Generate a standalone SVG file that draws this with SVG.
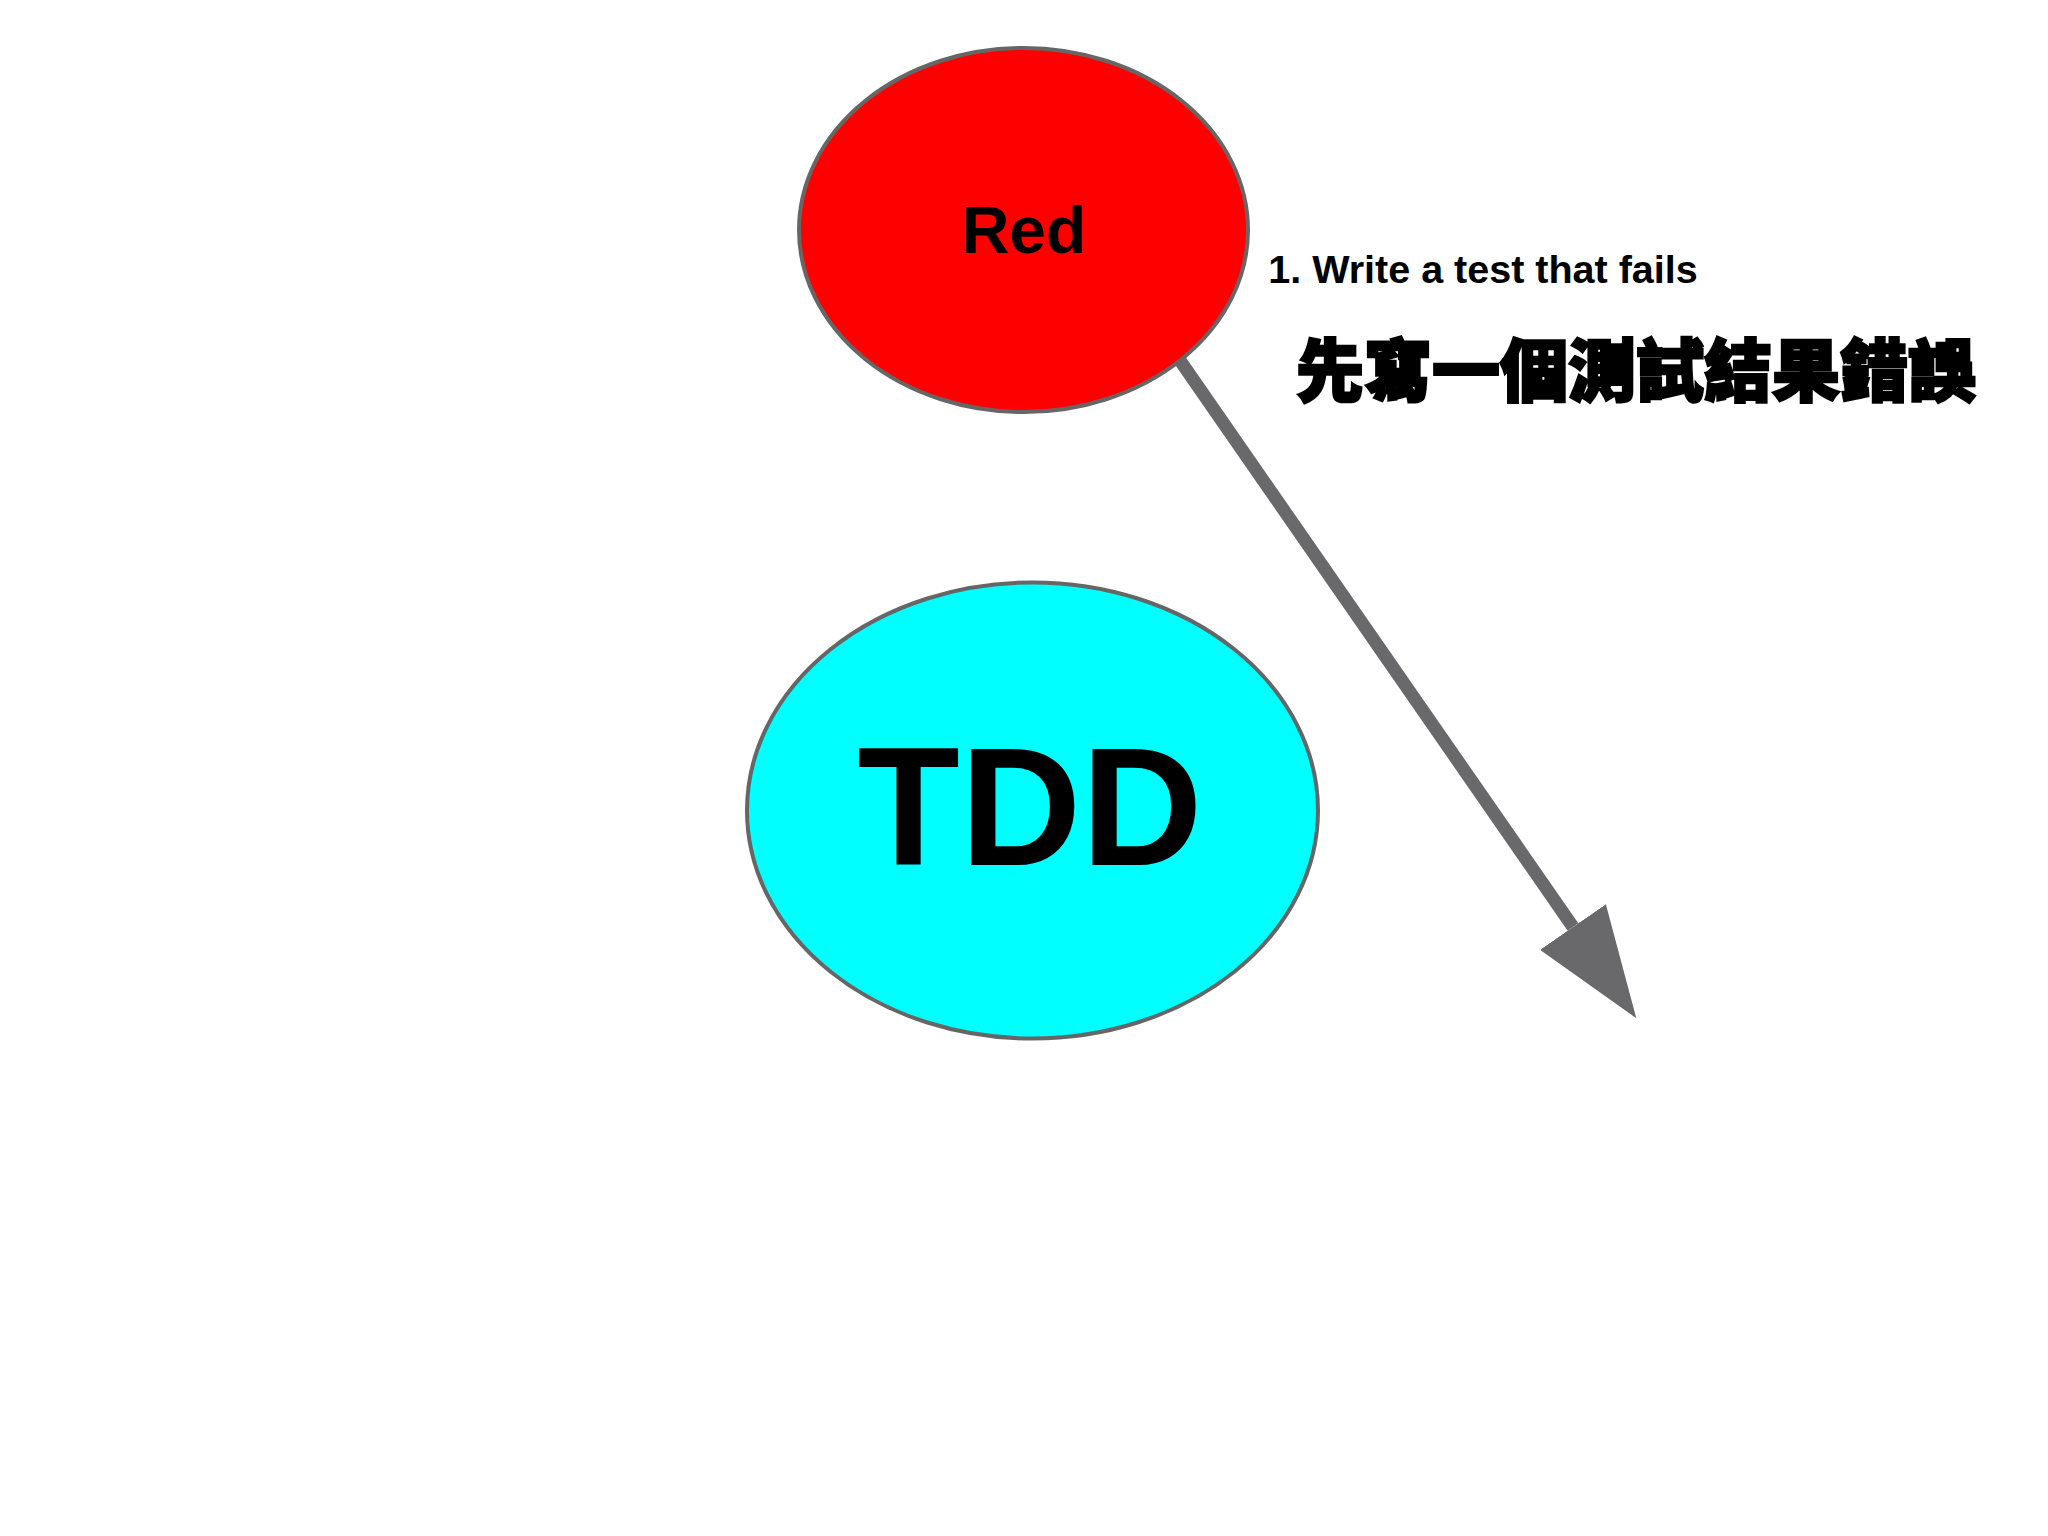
<svg xmlns="http://www.w3.org/2000/svg" width="2048" height="1536" viewBox="0 0 2048 1536">
  <style>
    .node { stroke: #666666; stroke-width: 4; }
    .lbl { font-family: "Liberation Sans", Arial, sans-serif; font-weight: bold; fill: #000000; text-anchor: middle; }
    .cjk { font-family: "Noto Sans CJK TC", "Noto Sans CJK SC", sans-serif; font-weight: 900; fill: #000000; stroke: #000000; stroke-width: 2.5; text-anchor: middle; }
    .edge { stroke: #69686b; stroke-width: 13; fill: none; }
  </style>
  <defs>
    <marker id="arrowhead" viewBox="0 0 111 80" refX="0" refY="40" markerWidth="111" markerHeight="80" markerUnits="userSpaceOnUse" orient="auto">
      <polygon points="0,0 111,40 0,80" fill="#69686b"/>
    </marker>
  </defs>
  <rect width="2048" height="1536" fill="#ffffff"/>
  <g id="connectors">
    <line class="edge" x1="1179" y1="359" x2="1573" y2="927" marker-end="url(#arrowhead)"/>
  </g>
  <g id="node-red">
    <ellipse class="node" cx="1023.5" cy="230" rx="224.5" ry="182" fill="#ff0000"/>
    <text class="lbl" x="1024" y="253" font-size="66">Red</text>
  </g>
  <g id="node-tdd">
    <ellipse class="node" cx="1032.5" cy="810.5" rx="285.5" ry="228" fill="#00ffff"/>
    <text class="lbl" x="1030" y="865" font-size="168">TDD</text>
  </g>
  <g id="label-step1">
    <text class="lbl" x="1483" y="283" font-size="39.5">1. Write a test that fails</text>
    <text class="cjk" x="1636" y="396" font-size="68">先寫一個測試結果錯誤</text>
  </g>
</svg>
